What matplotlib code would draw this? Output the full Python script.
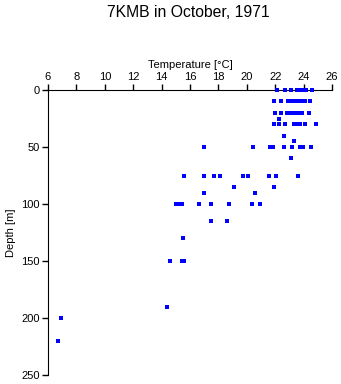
import matplotlib
matplotlib.use('Agg')
import matplotlib.pyplot as plt

# temperature [C] and depth [m] of each reading
temp = [22.1, 22.7, 23.1, 23.5, 23.75, 23.9, 24.0, 24.2, 24.6,
        21.9, 22.4, 22.9, 23.1, 23.3, 23.5, 23.7, 23.9, 24.1, 24.45,
        22.0, 22.4, 22.8, 23.1, 23.4, 23.7, 23.9, 24.4,
        22.3,
        21.9, 22.3, 22.7, 23.3, 23.5, 23.75, 24.1, 24.9,
        22.6, 23.3,
        17.0, 20.45, 21.6, 21.85, 22.6, 23.2, 23.75, 23.95, 24.55,
        23.1,
        15.55, 17.0, 17.7, 18.1, 19.7, 20.1, 21.55, 22.05, 23.6,
        19.1, 21.95,
        17.0, 20.6,
        15.0, 15.3, 15.45, 16.6, 17.45, 18.75, 20.4, 20.9,
        17.45, 18.6,
        15.5,
        14.6, 15.45, 15.6,
        14.35, 6.9, 6.7]
depth = [0] * 9 + [10] * 10 + [20] * 8 + [25] + [30] * 8 + [40, 45] + [50] * 9 + [60] \
    + [75] * 9 + [85] * 2 + [90] * 2 + [100] * 8 + [115] * 2 + [130] + [150] * 3 \
    + [190, 200, 220]

plt.rcParams['font.family'] = ['Liberation Sans', 'DejaVu Sans']
fig = plt.figure(figsize=(3.41, 3.84), dpi=100)
ax = fig.add_axes([48/341, 9/384, 284/341, 285/384])

ax.plot(temp, depth, 's', color='#0000ff', ms=2.2, mew=0, clip_on=False, zorder=3)
ax.set_xlim(6, 26)
ax.set_ylim(250, 0)
ax.set_xticks(range(6, 27, 2))
ax.set_yticks(range(0, 251, 50))
ax.xaxis.tick_top()
ax.xaxis.set_label_position('top')
ax.spines['right'].set_visible(False)
ax.spines['bottom'].set_visible(False)
ax.tick_params(labelsize=8, length=4, width=1, pad=2)
ax.set_xlabel('Temperature [°C]', fontsize=8, labelpad=3)
ax.set_ylabel('Depth [m]', fontsize=8, labelpad=4)
fig.text(0.553, 0.968, '7KMB in October, 1971', ha='center', va='center', fontsize=11.3)

fig.savefig('out.png', dpi=100)
